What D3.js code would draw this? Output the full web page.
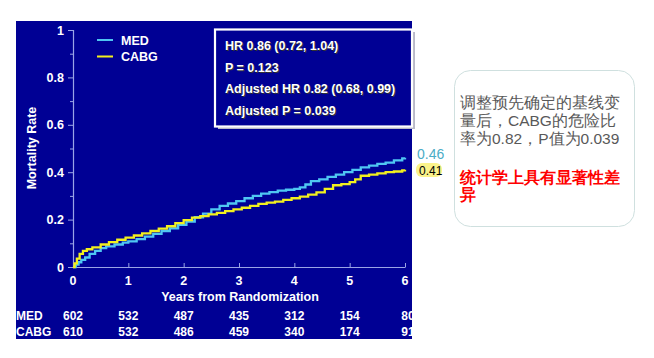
<!DOCTYPE html>
<html><head><meta charset="utf-8">
<script src="https://cdn.jsdelivr.net/npm/d3@7"></script>
<style>body{margin:0;background:#fff;}svg{display:block;}</style>
</head><body><svg id="c" width="654" height="358"></svg>
<script>
// ---- data ----
const medTimes  = [0,0.05,0.1,0.15,0.22,0.3,0.4,0.5,0.6,0.75,0.9,1.0,1.15,1.3,1.45,1.6,1.75,1.9,2.05,2.2,2.35,2.5,2.65,2.8,2.95,3.1,3.25,3.4,3.55,3.7,3.85,4.0,4.1,4.2,4.3,4.45,4.6,4.75,4.9,5.05,5.2,5.35,5.5,5.65,5.8,5.95,6.0];
const medValues = [0,0.01,0.02,0.03,0.04,0.055,0.068,0.08,0.087,0.095,0.103,0.108,0.118,0.128,0.14,0.152,0.163,0.178,0.192,0.21,0.225,0.243,0.258,0.268,0.278,0.29,0.3,0.31,0.316,0.322,0.326,0.33,0.336,0.348,0.362,0.37,0.38,0.39,0.4,0.41,0.42,0.428,0.435,0.44,0.45,0.458,0.461];
const cabgTimes  = [0,0.03,0.07,0.12,0.18,0.25,0.35,0.5,0.65,0.8,0.95,1.1,1.25,1.4,1.55,1.7,1.85,2.0,2.15,2.3,2.45,2.6,2.75,2.9,3.05,3.2,3.35,3.5,3.65,3.8,3.95,4.1,4.25,4.4,4.55,4.7,4.85,5.0,5.1,5.2,5.35,5.5,5.65,5.8,5.95,6.0];
const cabgValues = [0,0.015,0.035,0.055,0.068,0.075,0.083,0.095,0.105,0.115,0.124,0.133,0.142,0.152,0.162,0.172,0.185,0.198,0.208,0.215,0.222,0.228,0.236,0.243,0.25,0.258,0.266,0.272,0.276,0.283,0.29,0.297,0.305,0.315,0.33,0.345,0.35,0.358,0.37,0.385,0.39,0.395,0.4,0.403,0.408,0.41];
const xTicks = [0,1,2,3,4,5,6];
const yTicks = [0,0.2,0.4,0.6,0.8,1];
const yTickLabels = ["0","0.2","0.4","0.6","0.8","1"];
const medAtRisk  = [602,532,487,435,312,154,80];
const cabgAtRisk = [610,532,486,459,340,174,91];
const legendNames = ["MED","CABG"];
const statsLines = ["HR 0.86 (0.72, 1.04)","P = 0.123","Adjusted HR 0.82 (0.68, 0.99)","Adjusted P = 0.039"];
const endLabels = ["0.46","0.41"];
const noteLines = ["调整预先确定的基线变","量后，CABG的危险比","率为0.82，P值为0.039"];
const noteRed = ["统计学上具有显著性差","异"];

const NAVY="#000094", BLUE="#4fc6f2", YEL="#f2f01e", AX="#9aa4e6";
const svg=d3.select("#c");
const font="Arial, 'Liberation Sans', sans-serif";

// panel
svg.append("clipPath").attr("id","pc").append("rect").attr("x",16).attr("y",21).attr("width",396).attr("height",318);
const P=svg.append("g").attr("clip-path","url(#pc)");
P.append("rect").attr("x",16).attr("y",21).attr("width",396).attr("height",318).attr("fill",NAVY);

const x=d3.scaleLinear().domain([0,6]).range([73,405]);
const y=d3.scaleLinear().domain([0,1]).range([267,30]);

// axes
const ya=P.append("g").attr("transform","translate(73,0)")
  .call(d3.axisLeft(y).tickValues(d3.range(0,1.01,0.1)).tickSize(5).tickFormat(""));
ya.selectAll("line").attr("stroke",AX);
ya.select(".domain").attr("stroke",AX).attr("stroke-width",1.2);
ya.selectAll(".tick").filter(d=>Math.round(d*10)%2===1).select("line").attr("x2",-3);
const xa=P.append("g").attr("transform","translate(0,267)")
  .call(d3.axisTop(x).tickValues(xTicks).tickSize(4).tickFormat("").tickSizeOuter(0));
xa.selectAll("line").attr("stroke",AX);
xa.select(".domain").attr("stroke",AX).attr("stroke-width",1.2);

const txt=(g,xx,yy,s,o={})=>g.append("text").attr("x",xx).attr("y",yy).text(s)
  .attr("font-family",font).attr("font-size",o.size||12).attr("font-weight",o.w||"bold")
  .attr("fill",o.fill||"#fff").attr("text-anchor",o.anchor||"start");

yTicks.forEach((v,i)=>txt(P,64,y(v)+4.5,yTickLabels[i],{anchor:"end",size:12.5}));
xTicks.forEach(v=>txt(P,x(v),285,String(v),{anchor:"middle",size:12.5}));
txt(P,240,301,"Years from Randomization",{anchor:"middle",size:12.5});
P.append("text").attr("transform","translate(36,148) rotate(-90)").text("Mortality Rate")
  .attr("font-family",font).attr("font-size",12.5).attr("font-weight","bold").attr("fill","#fff").attr("text-anchor","middle");

// curves
const line=d3.line().x(d=>x(d[0])).y(d=>y(d[1])).curve(d3.curveStepAfter);
const med=medTimes.map((t,i)=>[t,medValues[i]]);
const cabg=cabgTimes.map((t,i)=>[t,cabgValues[i]]);
P.append("path").attr("d",line(med)).attr("fill","none").attr("stroke",BLUE).attr("stroke-width",2.3);
P.append("path").attr("d",line(cabg)).attr("fill","none").attr("stroke",YEL).attr("stroke-width",2.3);

// legend
[BLUE,YEL].forEach((c,i)=>{
  P.append("line").attr("x1",97).attr("x2",113).attr("y1",40+i*16.5).attr("y2",40+i*16.5).attr("stroke",c).attr("stroke-width",2);
  txt(P,121,44.5+i*16.5,legendNames[i],{size:12.5});
});

// risk table
txt(P,16,320,"MED"); txt(P,16,336,"CABG");
xTicks.forEach((v,i)=>{
  txt(P,x(v)+(i===6?3:0),320,String(medAtRisk[i]),{anchor:"middle"});
  txt(P,x(v)+(i===6?3:0),336,String(cabgAtRisk[i]),{anchor:"middle"});
});

// stats box
svg.append("rect").attr("x",218).attr("y",32).attr("width",197).attr("height",97).attr("fill","#b9b9c8");
svg.append("rect").attr("x",215).attr("y",29.5).attr("width",197).attr("height",97).attr("fill",NAVY).attr("stroke","#fff").attr("stroke-width",2.2);
statsLines.forEach((s,i)=>{
  txt(svg,225,50+i*21.5,s,{fill:"#333",size:12.5}).attr("transform","translate(1,1)");
  txt(svg,225,50+i*21.5,s,{size:12.5});
});

// end labels
svg.append("rect").attr("x",416).attr("y",163).attr("width",26).attr("height",14).attr("rx",6).attr("fill","#fbf38a");
txt(svg,417,159,endLabels[0],{fill:"#4bacc6",size:14,w:"normal"});
txt(svg,419,175,endLabels[1],{fill:"#000",size:12,w:"normal"});

// note box
svg.append("rect").attr("x",454.5).attr("y",70.5).attr("width",180).attr("height",156).attr("rx",16)
  .attr("fill","#fff").attr("stroke","#cfe0df").attr("stroke-width",1);
noteLines.forEach((s,i)=>txt(svg,460,108+i*18,s,{fill:"#595959",size:15.5,w:"normal"}));
noteRed.forEach((s,i)=>txt(svg,460,183+i*17,s,{fill:"#ff0000",size:15.5,w:"bold"}));
</script></body></html>
